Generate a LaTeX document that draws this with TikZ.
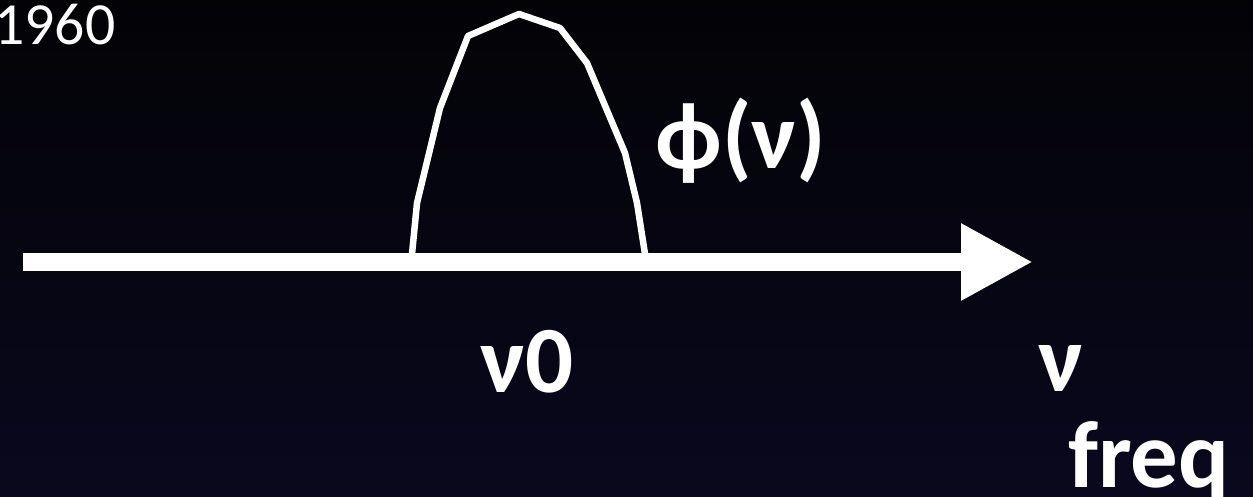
\documentclass[tikz,border=0pt]{standalone}
\usepackage{fontspec}
\setmainfont{Carlito}
\usepackage{tikz}
\usetikzlibrary{arrows.meta}
\definecolor{bgTop}{RGB}{3, 3, 6}
\definecolor{bgBottom}{RGB}{9, 8, 30}

\begin{document}
\begin{tikzpicture}[
    lbl/.style={text=white, inner sep=0pt, anchor=base west, font=\bfseries\fontsize{54}{60}\selectfont},
    curve/.style={white, line width=0.13cm, line join=round}
  ]
        \shade[top color=bgTop, bottom color=bgBottom] (0,0) rectangle (25.06,-9.94);
        \useasboundingbox (0,0) rectangle (25.06,-9.94);
        % axis
        \coordinate (axisL) at (0.46,-5.24);
        \coordinate (axisR) at (20.66,-5.24);
        \draw[white, line width=0.36cm, -{Triangle[length=1.44cm,width=1.44cm]}] (axisL) -- (axisR);
        % line shape
        \draw[curve] (8.24,-5.08) -- (8.34,-4.06) -- (8.80,-2.16) -- (9.36,-0.72) -- (10.38,-0.28) -- (11.20,-0.56) -- (11.74,-1.26) -- (12.50,-3.06) -- (12.74,-4.06) -- (12.90,-5.08);
        \node[text=white, inner sep=0pt, anchor=base west, font=\fontsize{34}{40}\selectfont] (year) at (-0.12,-0.90) {1960};
        \node[lbl] (phi) at (13.10,-3.38) {ϕ(ν)};
        \node[lbl] (nu0) at (9.60,-7.86) {ν0};
        \node[lbl] (nu) at (20.76,-7.84) {ν};
        \node[lbl] (freq) at (21.36,-9.74) {freq};
      \end{tikzpicture}
\end{document}
